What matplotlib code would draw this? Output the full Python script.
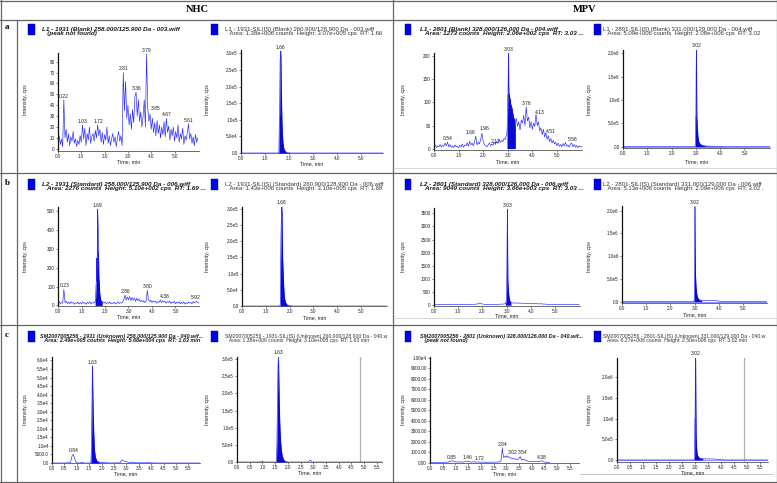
import numpy as np
import matplotlib.pyplot as plt
from matplotlib.patches import Rectangle
from matplotlib.lines import Line2D

W, H = 777, 483

# ---------------- data ----------------
STEP = 0.05  # scan interval of the noisy traces, min

# NHC blank, L1 - 1931, scans from 0.00 min
a1_int = [5, 12, 4, 9, 2, 45, 10, 18, 6, 14,
          3, 11, 7, 16, 5, 9, 2, 8, 4, 12,
          6, 22, 9, 19, 3, 14, 8, 20, 5, 11,
          14, 7, 17, 10, 22, 12, 18, 6, 15, 4,
          13, 8, 20, 5, 12, 3, 9, 14, 6, 11,
          2, 10, 16, 7, 12, 3, 70, 35, 62, 28,
          40, 22, 32, 18, 36, 24, 48, 52, 30, 45,
          25, 34, 20, 30, 45, 20, 87, 38, 25, 32,
          18, 28, 15, 24, 12, 26, 14, 22, 10, 20,
          13, 25, 11, 28, 15, 21, 8, 18, 12, 20,
          7, 16, 10, 22, 6, 14, 9, 19, 4, 12,
          8, 15, 23, 9, 14, 5, 11, 3, 13, 6, 10]

# MPV blank, L1 - 2801: scans 0.00-2.95, peak, scans 3.35-6.00
a3_pre = [3, 8, 2, 6, 4, 9, 3, 7, 5, 12,
          6, 14, 4, 9, 3, 6, 2, 8, 4, 5,
          2, 7, 4, 10, 3, 8, 6, 13, 5, 16,
          8, 12, 6, 15, 27, 8, 14, 10, 20, 33,
          15, 9, 6, 4, 8, 12, 6, 10, 7, 14,
          9, 16, 11, 20, 13, 18, 15, 22, 20, 30]
a3_peak_t = [2.97, 2.99, 3.00, 3.01, 3.02, 3.03, 3.04, 3.05, 3.07, 3.09, 3.11,
             3.13, 3.15, 3.17, 3.19, 3.21, 3.23, 3.25, 3.27, 3.29, 3.31]
a3_peak_v = [35, 70, 115, 120, 160, 206, 140, 112, 118, 100, 108,
             85, 95, 78, 88, 65, 75, 58, 66, 50, 60]
a3_post = [65, 48, 58, 40, 62, 55, 72, 50, 90, 60,
           68, 45, 58, 42, 55, 48, 75, 50, 58, 38,
           45, 30, 42, 25, 35, 20, 28, 15, 22, 12,
           18, 10, 14, 6, 12, 5, 9, 4, 11, 6,
           13, 5, 8, 3, 10, 12, 4, 9, 3, 7,
           2, 6, 3, 5]

# NHC standard, L2 - 1931: scans 0.00-1.55, peak, scans 1.90-6.00
b1_pre = [10, 20, 8, 15, 12, 85, 15, 22, 10, 18, 8, 20, 12, 16, 6, 14,
          10, 18, 7, 15, 9, 19, 11, 14, 6, 16, 10, 20, 8, 15, 12, 18]
b1_peak_t = [1.58, 1.60, 1.62, 1.64, 1.65, 1.66, 1.67, 1.68, 1.69, 1.70,
             1.71, 1.72, 1.74, 1.76, 1.78, 1.80, 1.82, 1.85, 1.88]
b1_peak_v = [15, 40, 110, 140, 250, 130, 300, 420, 510, 380,
             160, 280, 150, 110, 60, 45, 30, 22, 18]
b1_post = [20, 12, 18, 9, 15, 11, 19, 8, 14, 10,
           17, 7, 13, 20, 10, 15, 12, 18, 30, 55,
           28, 45, 30, 48, 25, 42, 28, 40, 22, 38,
           25, 35, 20, 28, 18, 25, 15, 22, 80, 30,
           20, 28, 15, 24, 18, 22, 12, 20, 16, 30,
           14, 25, 18, 22, 12, 20, 15, 24, 10, 18,
           14, 22, 9, 17, 12, 20, 8, 16, 11, 19,
           7, 15, 10, 18, 12, 16, 9, 20, 13, 17,
           22, 15, 12]

# MPV standard, L2 - 2801: scans every 0.1 min, 0.0-2.9 and 3.2-6.0
b3_pre = [20, 25, 18, 22, 20, 28, 22, 25, 20, 24, 22, 30, 25, 28, 24,
          35, 30, 40, 45, 85, 45, 30, 28, 32, 30, 35, 32, 38, 40, 50]
b3_peak_t = [2.95, 2.98, 3.00, 3.01, 3.02, 3.03, 3.04, 3.05, 3.06, 3.08, 3.10, 3.12, 3.15, 3.18]
b3_peak_v = [60, 150, 600, 1500, 2600, 3660, 2300, 1000, 800, 500, 320, 200, 140, 100]
b3_post = [90, 80, 85, 78, 80, 72, 75, 65, 70, 60, 62, 50, 55, 45, 40,
           35, 30, 28, 25, 28, 22, 25, 20, 24, 20, 22, 18, 20, 18]

# internal standards
a2_t = [0.00, 1.55, 1.58, 1.60, 1.61, 1.63, 1.65, 1.66, 1.67, 1.69, 1.71, 1.73,
        1.75, 1.78, 1.82, 1.86, 1.92, 2.00, 2.10, 5.92]
a2_v = [0, 0, 3e3, 1.1e5, 1.15e5, 2.8e5, 2.95e5, 3.07e5, 2.6e5, 1.6e5, 9.0e4, 5.5e4,
        3.2e4, 1.6e4, 8e3, 4e3, 1.5e3, 500, 0, 0]
a4_t = [0.00, 2.95, 2.98, 2.99, 3.00, 3.01, 3.02, 3.03, 3.04, 3.06, 3.08, 3.10,
        3.13, 3.17, 3.22, 3.30, 3.40, 3.55, 3.80, 4.20, 6.05]
a4_v = [0, 0, 2e4, 6.5e5, 6.6e5, 1.6e6, 2.08e6, 1.4e6, 6.5e5, 4.2e5, 2.5e5, 1.5e5,
        9e4, 6e4, 4e4, 2.5e4, 1.5e4, 1e4, 5e3, 2e3, 0]
b2_t = [0.00, 1.58, 1.61, 1.62, 1.64, 1.66, 1.68, 1.69, 1.71, 1.73, 1.75, 1.77,
        1.80, 1.84, 1.88, 1.94, 2.02, 2.15, 6.10]
b2_v = [0, 0, 4e3, 9e4, 2.2e5, 2.9e5, 3.10e5, 2.5e5, 1.5e5, 1.1e5, 7e4, 4e4,
        2e4, 1e4, 5e3, 2e3, 800, 0, 0]
b4_t = [0.00, 2.96, 2.99, 3.00, 3.01, 3.02, 3.03, 3.04, 3.06, 3.08, 3.11, 3.15,
        3.20, 3.30, 3.45, 3.60, 3.75, 3.90, 4.10, 6.00]
b4_v = [0, 0, 3e4, 7.5e5, 1.2e6, 2.09e6, 1.3e6, 6e5, 3.8e5, 2.2e5, 1.2e5, 7e4,
        4e4, 2.5e4, 2.5e4, 3e4, 2.8e4, 2e4, 5e3, 0]
c2_t = [0.00, 0.90, 0.95, 1.00, 1.05, 1.52, 1.55, 1.57, 1.59, 1.61, 1.63, 1.64, 1.66,
        1.68, 1.70, 1.72, 1.75, 1.78, 1.82, 1.86, 1.92, 2.00, 2.80, 2.85, 2.90, 2.95, 5.70]
c2_v = [0, 0, 2e3, 3e3, 0, 0, 3e3, 6e4, 1.8e5, 2.8e5, 3.10e5, 2.7e5, 1.8e5,
        1.2e5, 8e4, 5.5e4, 3.2e4, 1.8e4, 9e3, 4e3, 1.5e3, 0, 0, 4e3, 5e3, 0, 0]
c4_t = [0.00, 2.95, 2.98, 2.99, 3.00, 3.01, 3.02, 3.03, 3.04, 3.06, 3.08, 3.11,
        3.15, 3.20, 3.30, 3.45, 3.60, 3.80, 3.95, 4.10, 5.80]
c4_v = [0, 0, 5e4, 1.0e6, 1.05e6, 2.25e6, 2.50e6, 1.3e6, 6e5, 2.8e5, 1.5e5, 9e4,
        6e4, 4e4, 3e4, 2.5e4, 2.5e4, 2e4, 1e4, 0, 0]

# unknown sample
c1_t = [0.00, 0.50, 0.74, 0.78, 0.81, 0.84, 0.87, 0.90, 0.94, 0.98,
        1.03, 1.10, 1.20, 1.30, 1.45, 1.55, 1.57, 1.59, 1.60, 1.62,
        1.63, 1.64, 1.66, 1.68, 1.70, 1.72, 1.75, 1.80, 1.85, 1.92,
        2.00, 2.10, 2.20, 2.40, 2.75, 2.80, 2.84, 2.88, 2.95, 3.05,
        3.15, 3.22, 3.30, 3.50, 3.85, 3.90, 3.95, 4.20, 6.00]
c1_v = [0, 0, 200, 2500, 4200, 5000, 4600, 3200, 1500, 500,
        100, 0, 300, 0, 0, 0, 300, 8000, 2.0e4, 4.6e4,
        5.68e4, 4.8e4, 3.2e4, 2.0e4, 1.2e4, 7000, 3500, 1500, 800, 400,
        200, 300, 100, 0, 100, 1500, 1800, 1300, 900, 500,
        300, 600, 200, 100, 100, 400, 100, 0, 0]
c3_t = [0.00, 0.40, 0.70, 0.80, 0.85, 0.90, 1.00, 1.10, 1.20, 1.30,
        1.40, 1.46, 1.50, 1.60, 1.70, 1.72, 1.80, 1.90, 2.00, 2.10,
        2.20, 2.30, 2.40, 2.50, 2.60, 2.70, 2.78, 2.82, 2.84, 2.86,
        2.90, 2.95, 3.00, 3.02, 3.05, 3.10, 3.15, 3.20, 3.25, 3.30,
        3.35, 3.40, 3.45, 3.50, 3.54, 3.58, 3.60, 3.70, 3.80, 3.90,
        4.00, 4.10, 4.20, 4.30, 4.38, 4.45, 4.50, 4.60, 4.70]
c3_v = [50, 60, 80, 150, 210, 180, 120, 90, 110, 80,
        130, 190, 150, 90, 110, 130, 80, 100, 70, 90,
        60, 80, 70, 90, 80, 100, 120, 900, 1450, 900,
        500, 650, 560, 700, 520, 600, 450, 480, 380, 420,
        360, 380, 320, 450, 620, 380, 300, 340, 200, 150,
        120, 130, 110, 150, 220, 120, 90, 70, 50]

# peak labels: (text, time, intensity)
a1_lab = [("0.22", 0.22, 45), ("1.03", 1.03, 22), ("1.72", 1.72, 22), ("2.81", 2.81, 70),
          ("3.36", 3.36, 52), ("3.79", 3.79, 87), ("3.85", 4.2, 34), ("4.67", 4.67, 28),
          ("5.61", 5.61, 23)]
a3_lab = [("0.54", 0.54, 14), ("1.68", 1.50, 27), ("1.96", 2.05, 36), ("2.17", 2.50, 8),
          ("3.03", 3.03, 206), ("3.76", 3.76, 90), ("4.13", 4.3, 70), ("4.51", 4.75, 30),
          ("5.58", 5.62, 12)]
b1_lab = [("0.23", 0.30, 85), ("1.69", 1.69, 510), ("2.86", 2.86, 55), ("3.80", 3.80, 80),
          ("4.38", 4.55, 30), ("5.92", 5.85, 22)]
c1_lab = [("0.84", 0.86, 5000), ("1.63", 1.63, 5.68e4)]
c3_lab = [("0.85", 0.85, 210), ("1.46", 1.46, 190), ("1.72", 1.95, 130), ("2.84", 2.84, 1450),
          ("3.02", 3.25, 700), ("3.54", 3.62, 620), ("4.38", 4.38, 220)]
a2_lab = [("1.66", 1.66, 3.07e5)]
a4_lab = [("3.02", 3.02, 2.08e6)]
b2_lab = [("1.68", 1.68, 3.10e5)]
b3_lab = [("3.03", 3.03, 3660)]
b4_lab = [("3.02", 3.02, 2.09e6)]
c2_lab = [("1.63", 1.63, 3.10e5)]
c4_lab = [("3.02", 3.02, 2.50e6)]

# tick labels
ab_xt = [0, 1, 2, 3, 4, 5]
c_xt = [0, 0.5, 1, 1.5, 2, 2.5, 3, 3.5, 4, 4.5, 5, 5.5]
a1_yt = [0, 10, 20, 30, 40, 50, 60, 70, 80]
a3_yt = [0, 50, 100, 150, 200]
b1_yt = [0, 100, 200, 300, 400, 500]
b3_yt = [0, 500, 1000, 1500, 2000, 2500, 3000, 3500]
is1_yt = [0, 5e4, 1e5, 1.5e5, 2e5, 2.5e5, 3e5]
is1_lbl = ["0.0", "5.0e4", "1.0e5", "1.5e5", "2.0e5", "2.5e5", "3.0e5"]
is2_yt = [0, 5e5, 1e6, 1.5e6, 2e6]
is2_lbl = ["0.0", "5.0e5", "1.0e6", "1.5e6", "2.0e6"]
c1_yt = [0, 5000, 1e4, 1.5e4, 2e4, 2.5e4, 3e4, 3.5e4, 4e4, 4.5e4, 5e4, 5.5e4, 6e4]
c1_lbl = ["0.0", "5000.0", "1.0e4", "1.5e4", "2.0e4", "2.5e4", "3.0e4", "3.5e4",
          "4.0e4", "4.5e4", "5.0e4", "5.5e4", "6.0e4"]
c3_yt = [0, 1000, 2000, 3000, 4000, 5000, 6000, 7000, 8000, 9000, 10000]
c3_lbl = ["0.00", "1000.00", "2000.00", "3000.00", "4000.00", "5000.00", "6000.00",
          "7000.00", "8000.00", "9000.00", "1.00e4"]

titles = {
    "a1": ("L1 - 1931 (Blank) 258.000/125.900 Da - 003.wiff", "(peak not found)"),
    "a2": ("L1 - 1931-SIL(IS) (Blank) 260.900/128.900 Da - 003.wiff",
           "Area: 1.38e+006 counts  Height: 3.07e+005 cps  RT: 1.66"),
    "a3": ("L1 - 2801 (Blank) 328.000/126.000 Da - 004.wiff",
           "Area: 1273 counts  Height: 2.06e+002 cps  RT: 3.03 ..."),
    "a4": ("L1 - 2801-SIL(IS) (Blank) 331.000/129.000 Da - 004.wiff",
           "Area: 5.09e+006 counts  Height: 2.08e+006 cps  RT: 3.02"),
    "b1": ("L2 - 1931 (Standard) 258.000/125.900 Da - 006.wiff",
           "Area: 2276 counts  Height: 5.10e+002 cps  RT: 1.69 ..."),
    "b2": ("L2 - 1931-SIL(IS) (Standard) 260.900/128.900 Da - 006.wiff",
           "Area: 1.43e+006 counts  Height: 3.10e+005 cps  RT: 1.68"),
    "b3": ("L2 - 2801 (Standard) 328.000/126.000 Da - 006.wiff",
           "Area: 9049 counts  Height: 3.66e+003 cps  RT: 3.03 ..."),
    "b4": ("L2 - 2801-SIL(IS) (Standard) 331.000/129.000 Da - 006.wiff",
           "Area: 5.13e+006 counts  Height: 2.09e+006 cps  RT: 3.02 ."),
    "c1": ("SM2007005256 - 1931 (Unknown) 258.000/125.900 Da - 040.wif...",
           "Area: 2.49e+005 counts  Height: 5.68e+004 cps  RT: 1.63 min"),
    "c2": ("SM2007005256 - 1931-SIL(IS) (Unknown) 260.900/128.900 Da - 040.w",
           "Area: 1.38e+006 counts  Height: 3.10e+005 cps  RT: 1.63 min"),
    "c3": ("SM2007005256 - 2801 (Unknown) 328.000/126.000 Da - 040.wif...",
           "(peak not found)"),
    "c4": ("SM2007005256 - 2801-SIL(IS) (Unknown) 331.000/129.000 Da - 040.w",
           "Area: 6.27e+006 counts  Height: 2.50e+006 cps  RT: 3.02 min"),
}


def scans(t0, dt, vals):
    return t0 + dt * np.arange(len(vals)), np.asarray(vals, float)


def join(*parts):
    t = np.concatenate([np.asarray(p[0], float) for p in parts])
    v = np.concatenate([np.asarray(p[1], float) for p in parts])
    o = np.argsort(t, kind="stable")
    return t[o], v[o]


a1 = scans(0.0, STEP, a1_int)
a3 = join(scans(0.0, STEP, a3_pre), (a3_peak_t, a3_peak_v), scans(3.35, STEP, a3_post))
b1 = join(scans(0.0, STEP, b1_pre), (b1_peak_t, b1_peak_v), scans(1.90, STEP, b1_post))
b3 = join(scans(0.0, 0.1, b3_pre), (b3_peak_t, b3_peak_v), scans(3.2, 0.1, b3_post))

# ---------------- figure ----------------
BLUE = "#2424ff"
FILL = "#0a0ad8"
plt.rcParams["font.family"] = ["Liberation Sans", "DejaVu Sans"]
fig = plt.figure(figsize=(W / 100, H / 100), dpi=100)


def fx(x):
    return x / W


def fy(y):
    return 1 - y / H


def hline(y, x0, x1, c="#666666", lw=0.9):
    fig.add_artist(Line2D([fx(x0), fx(x1)], [fy(y), fy(y)], transform=fig.transFigure, color=c, lw=lw))


def vline(x, y0, y1, c="#666666", lw=0.9):
    fig.add_artist(Line2D([fx(x), fx(x)], [fy(y0), fy(y1)], transform=fig.transFigure, color=c, lw=lw))


# table frame
hline(1, 0, 777)
hline(482, 0, 777)
vline(0.5, 0, 483)
vline(776.5, 0, 483)
hline(20, 0, 777)
hline(173, 0, 777)
hline(325, 0, 777)
vline(17, 20, 483)
vline(393, 0, 483)
hline(168, 395, 776, c="#d0d0d0", lw=0.6)
hline(318, 395, 776, c="#d0d0d0", lw=0.6)
hline(474, 580, 773, c="#bdbdbd", lw=0.6)

fig.text(fx(197), fy(9), "NHC", family="Liberation Serif", weight="bold", fontsize=7.5, ha="center", va="center")
fig.text(fx(585), fy(9), "MPV", family="Liberation Serif", weight="bold", fontsize=7.5, ha="center", va="center")
for lab, y in [("a", 27), ("b", 183), ("c", 335)]:
    fig.text(fx(7), fy(y), lab, family="Liberation Serif", weight="bold", fontsize=6.5, ha="center", va="center")

# panel layout: axes rect in px (left, top, right, bottom), x-label row in px
specs = [
    dict(k="a1", rect=(58, 53, 199, 151), xl=162, xlim=(0, 6.05), ylim=(-2, 88), data=a1, yt=a1_yt,
         ytl=None, xt=ab_xt, fill=None, lab=a1_lab, base=False, gray=None),
    dict(k="a2", rect=(241, 50, 383, 153), xl=164, xlim=(0, 5.92), ylim=(0, 3.1e5), data=(a2_t, a2_v),
         yt=is1_yt, ytl=is1_lbl, xt=ab_xt, fill=(1.55, 2.1), lab=a2_lab, base=False, gray=None),
    dict(k="a3", rect=(434, 53, 582, 150), xl=162, xlim=(0, 6.02), ylim=(-3, 207), data=a3, yt=a3_yt,
         ytl=None, xt=ab_xt, fill=(2.97, 3.31), lab=a3_lab, base=False, gray=None),
    dict(k="a4", rect=(623, 50, 770, 148), xl=162, xlim=(0, 6.05), ylim=(-0.03e6, 2.07e6),
         data=(a4_t, a4_v), yt=is2_yt, ytl=is2_lbl, xt=ab_xt, fill=(2.95, 4.2), lab=a4_lab, base=True,
         gray=None),
    dict(k="b1", rect=(58, 207, 199, 306), xl=317, xlim=(0, 6.0), ylim=(-3, 522), data=b1, yt=b1_yt,
         ytl=None, xt=ab_xt, fill=(1.58, 1.88), lab=b1_lab, base=False, gray=None),
    dict(k="b2", rect=(242, 207, 387, 306), xl=318, xlim=(0, 6.1), ylim=(0, 3.06e5), data=(b2_t, b2_v),
         yt=is1_yt, ytl=is1_lbl, xt=ab_xt, fill=(1.58, 2.15), lab=b2_lab, base=False, gray=None),
    dict(k="b3", rect=(434, 208, 580, 306), xl=316, xlim=(0, 6.03), ylim=(-30, 3700), data=b3, yt=b3_yt,
         ytl=None, xt=ab_xt, fill=(2.95, 3.18), lab=b3_lab, base=False, gray=None),
    dict(k="b4", rect=(622, 206, 767, 303), xl=315, xlim=(0, 6.0), ylim=(-0.03e6, 2.1e6),
         data=(b4_t, b4_v), yt=is2_yt, ytl=is2_lbl, xt=ab_xt, fill=(2.96, 3.3), lab=b4_lab, base=True,
         gray=None),
    dict(k="c1", rect=(52, 357, 200, 463), xl=474, xlim=(0, 5.97), ylim=(0, 6.2e4), data=(c1_t, c1_v),
         yt=c1_yt, ytl=c1_lbl, xt=c_xt, fill=(1.57, 1.92), lab=c1_lab, base=False, gray=None),
    dict(k="c2", rect=(237, 357, 382, 462), xl=473, xlim=(0, 5.7), ylim=(0, 3.06e5), data=(c2_t, c2_v),
         yt=is1_yt, ytl=is1_lbl, xt=c_xt, fill=(1.52, 2.0), lab=c2_lab, base=False, gray=4.85),
    dict(k="c3", rect=(430, 357, 579, 463), xl=474, xlim=(0, 5.85), ylim=(0, 1.005e4), data=(c3_t, c3_v),
         yt=c3_yt, ytl=c3_lbl, xt=c_xt, fill=None, lab=c3_lab, base=False, gray=None),
    dict(k="c4", rect=(617, 358, 768, 462), xl=473, xlim=(0, 5.8), ylim=(-0.05e6, 2.47e6),
         data=(c4_t, c4_v), yt=is2_yt, ytl=is2_lbl, xt=c_xt, fill=(2.95, 3.3), lab=c4_lab, base=True,
         gray=4.88),
]

col_x = [(42, 28), (225, 211), (420, 405), (603, 594)]
col_ylab = [25, 207, 403, 590]
row_title = {"a": 31.5, "b": 186.5, "c": 338.5}
row_ylab = {"a": 100, "b": 257, "c": 410}

for s in specs:
    k = s["k"]
    row, col = k[0], int(k[1]) - 1
    l, tp, r, b = s["rect"]
    ax = fig.add_axes([fx(l), fy(b), (r - l) / W, (b - tp) / H])
    t, v = s["data"]
    t = np.asarray(t, float)
    v = np.asarray(v, float)
    if s["base"]:
        ax.axhline(0, color="#7a7aff", lw=0.6, zorder=1)
    if s["gray"] is not None:
        ax.axvline(s["gray"], color="#b0b0b0", lw=0.9, zorder=1)
    ax.plot(t, v, color=BLUE, lw=0.45, zorder=2)
    if s["fill"] is not None:
        m = (t >= s["fill"][0]) & (t <= s["fill"][1])
        ax.fill_between(t[m], 0, v[m], color=FILL, lw=0, zorder=3)
    for txt, pt, pv in s["lab"]:
        ax.annotate(txt, (pt, pv), xytext=(0, 0.8), textcoords="offset points", ha="center", va="bottom",
                    fontsize=3.6, color="#222222", annotation_clip=False)
    ax.set_xlim(*s["xlim"])
    ax.set_ylim(*s["ylim"])
    ax.set_xticks(s["xt"])
    ax.set_xticklabels([f"{x:.1f}" for x in s["xt"]])
    ax.set_yticks(s["yt"])
    ax.set_yticklabels(s["ytl"] if s["ytl"] else [str(y) for y in s["yt"]])
    for side in ("top", "right"):
        ax.spines[side].set_visible(False)
    ax.spines["left"].set_linewidth(0.9)
    ax.spines["left"].set_color("#111111")
    ax.spines["bottom"].set_linewidth(0.6)
    ax.spines["bottom"].set_color("#555555")
    ax.tick_params(labelsize=3.3, length=1.5, width=0.4, pad=0.8, colors="#222222")
    ax.patch.set_alpha(0)

    # legend square and two-line title (one text, second line indented)
    tx, sx = col_x[col]
    if row == "c" and col == 0:
        tx = 40
    ty = row_title[row]
    fig.add_artist(Rectangle((fx(sx), fy(ty + 3.5)), 6.5 / W, 11 / H, transform=fig.transFigure,
                             facecolor="#0000f0", edgecolor="#000080", lw=0.3))
    analyte = col in (0, 2)
    if row == "c":
        size = 4.0 if analyte else 3.7
    else:
        size = 4.6 if analyte else 4.3
    l1, l2 = titles[k]
    fig.text(fx(tx), fy(ty), l1 + "\n   " + l2, fontsize=size, linespacing=0.92,
             weight="bold" if analyte else "normal", style="italic" if analyte else "normal",
             color="#1a1a1a" if analyte else "#333333", va="center", ha="left")

    fig.text(fx(col_ylab[col]), fy(row_ylab[row]), "Intensity, cps", rotation=90, fontsize=3.8,
             ha="center", va="center", color="#222222")
    fig.text(fx((l + r) / 2), fy(s["xl"]), "Time, min", fontsize=3.8, ha="center", va="center",
             color="#222222")

fig.savefig("out.png", dpi=100)
